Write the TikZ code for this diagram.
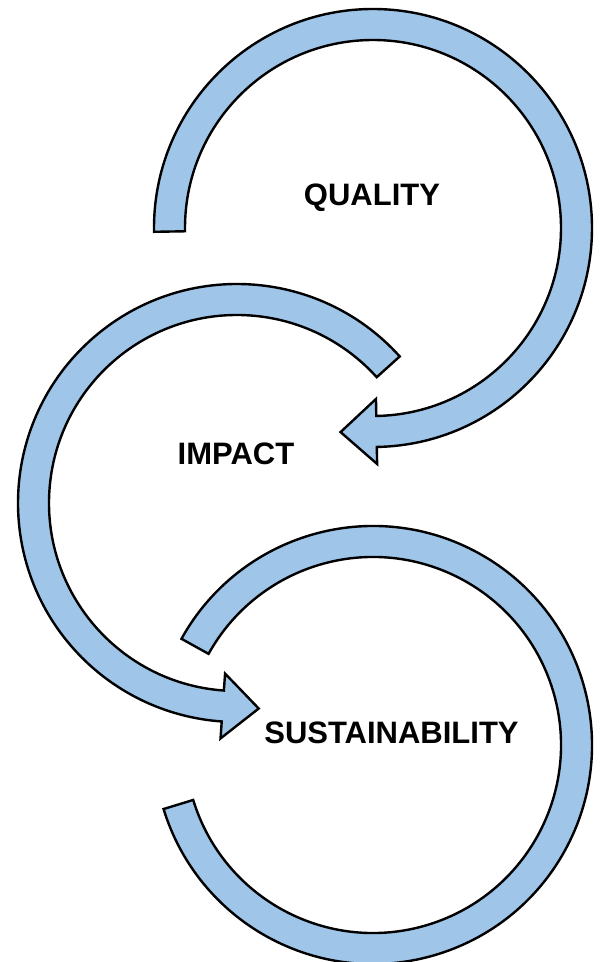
\documentclass[tikz,border=0pt]{standalone}
\usepackage{fontspec}
\setmainfont{Liberation Sans}
\usepackage{xcolor}
\usepackage{tikz}
\usetikzlibrary{calc}
\definecolor{bandblue}{HTML}{9FC5E8}

\begin{document}
\begin{tikzpicture}[x=1pt,y=1pt]
\tikzset{band/.style={
    draw=black,
    fill=bandblue,
    line width=2.4pt,
    line join=miter
  },
  cyclelabel/.style={
    anchor=base,
    inner sep=0pt,
    font=\fontsize{31}{37}\selectfont\bfseries
  }
}
\useasboundingbox (0,0) rectangle (604,962);
\coordinate (qc) at (373,734);
\coordinate (ic) at (237,459);
\coordinate (sc) at (373,217);
% quality loop, arrow into impact
\draw[band] ($(qc)+(181:219)$) arc[start angle=181,end angle=-89,radius=219]
  -- ($(qc)+(-89:236)$) -- ($(qc)+(-89:203.5)+(-179:36)$) -- ($(qc)+(-89:171)$)
  -- ($(qc)+(-89:188)$) arc[start angle=-89,end angle=181,radius=188] -- cycle;
% impact loop, arrow into sustainability
\draw[band] ($(ic)+(42:219)$) arc[start angle=42,end angle=266,radius=219]
  -- ($(ic)+(266:236)$) -- ($(ic)+(266:203.5)+(356:36)$) -- ($(ic)+(266:171)$)
  -- ($(ic)+(266:188)$) arc[start angle=266,end angle=42,radius=188] -- cycle;
% sustainability loop
\draw[band] ($(sc)+(151:219)$) arc[start angle=151,end angle=-163,radius=219]
  -- ($(sc)+(-163:188)$) arc[start angle=-163,end angle=151,radius=188] -- cycle;
\node[cyclelabel] (quality) at (372,756) {QUALITY};
\node[cyclelabel] (impact) at (236,497) {IMPACT};
\node[cyclelabel] (sustainability) at (391.5,218) {SUSTAINABILITY};
\end{tikzpicture}
\end{document}
